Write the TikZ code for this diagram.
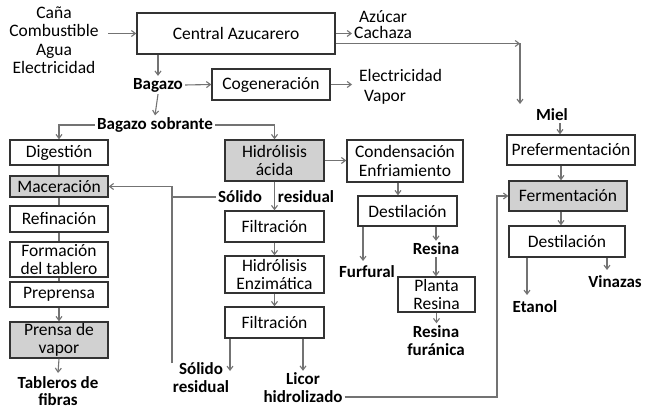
\documentclass[tikz,border=0pt]{standalone}
\usepackage{fontspec}
\setmainfont{Carlito}
\usetikzlibrary{arrows.meta}
\begin{document}
\begin{tikzpicture}[x=1pt,y=-1pt,
  every node/.style={font=\fontsize{17.5}{18.5}\selectfont, align=center, inner sep=2pt},
  box/.style={draw=black!80, line width=1.4pt, inner sep=0pt},
  shaded/.style={box, fill=black!18},
  lbl/.style={font=\bfseries\fontsize{17}{18}\selectfont},
  conn/.style={draw=black!55, line width=1.1pt},
  arr/.style={conn, -{Straight Barb[length=4pt,width=6pt]}}]
\useasboundingbox (0,0) rectangle (650,411);
\fill[white] (0,0) rectangle (650,411);
% boxes
\node[box, minimum width=198pt, minimum height=41pt] (central) at (236,33.5) {Central Azucarero};
\node[box, minimum width=118pt, minimum height=31pt] (cogen) at (271,84.5) {Cogeneración};
\node[box, minimum width=98pt, minimum height=25pt] (dig) at (59,152.5) {Digestión};
\node[shaded, minimum width=98pt, minimum height=21pt] (mac) at (59,186.5) {Maceración};
\node[box, minimum width=98pt, minimum height=26pt] (ref) at (59,219) {Refinación};
\node[box, minimum width=98pt, minimum height=35pt] (form) at (59,259.5) {Formación\\del tablero};
\node[box, minimum width=98pt, minimum height=25pt] (prep) at (59,294.5) {Preprensa};
\node[shaded, minimum width=98pt, minimum height=36pt] (prensa) at (59,340) {Prensa de\\vapor};
\node[shaded, minimum width=99pt, minimum height=41pt] (hacida) at (274.5,160.5) {Hidrólisis\\ácida};
\node[box, minimum width=99pt, minimum height=31pt] (filt1) at (274.5,226.5) {Filtración};
\node[box, minimum width=99pt, minimum height=37pt] (henz) at (274.5,274.5) {Hidrólisis\\Enzimática};
\node[box, minimum width=99pt, minimum height=31pt] (filt2) at (274.5,322.5) {Filtración};
\node[box, minimum width=116pt, minimum height=42pt] (cond) at (405,161) {Condensación\\Enfriamiento};
\node[box, minimum width=99pt, minimum height=30pt] (dest1) at (407.5,211) {Destilación};
\node[box, minimum width=77pt, minimum height=35pt] (planta) at (436.5,294.5) {Planta\\Resina};
\node[box, minimum width=128pt, minimum height=30pt] (pref) at (571,150) {Prefermentación};
\node[shaded, minimum width=118pt, minimum height=30pt] (ferm) at (568,196) {Fermentación};
\node[box, minimum width=116pt, minimum height=31pt] (dest2) at (567,241.5) {Destilación};
% labels
\node (inputs) at (54,40) {Caña\\Combustible\\Agua\\Electricidad};
\node[anchor=west, font=\fontsize{17.5}{16}\selectfont] (azucar) at (352,25) {Azúcar\\Cachaza};
\node[anchor=west] (elec) at (357,75) {Electricidad};
\node[anchor=west] (vapor) at (362,97) {Vapor};
\node[lbl] (bagazo) at (158,85) {Bagazo};
\node[lbl] (bsobr) at (155,125) {Bagazo sobrante};
\node[lbl] (miel) at (552,115) {Miel};
\node[lbl] (solido1) at (240,197) {Sólido};
\node[lbl] (residual1) at (306,197) {residual};
\node[lbl] (solido2) at (201,377.5) {Sólido\\residual};
\node[lbl] (licor) at (303,388) {Licor\\hidrolizado};
\node[lbl] (furfural) at (367,272) {Furfural};
\node[lbl] (resina) at (436,249) {Resina};
\node[lbl] (resfur) at (436,340.5) {Resina\\furánica};
\node[lbl, font=\bfseries\fontsize{17}{17}\selectfont, inner sep=1pt] (tableros) at (58,391.5) {Tableros de\\fibras};
\node[lbl] (etanol) at (535,307) {Etanol};
\node[lbl] (vinazas) at (615,282) {Vinazas};
% coordinates
\coordinate (inx) at (108,0);
\coordinate (mc) at (520,43.5);
\coordinate (me) at (520,104);
\coordinate (ce) at (352,84.5);
\coordinate (lp) at (172,363);
\coordinate (s2t) at (230,371);
\coordinate (ff) at (363,261);
\coordinate (lr) at (497,397);
\coordinate (et) at (527,295);
\coordinate (vi) at (607,270);
\coordinate (tt) at (58,373);
% connectors
\draw[arr] (inx |- central.west) -- (central.west);
\draw[arr] (central.east) -- (azucar.west |- central.east);
\draw[arr] ([yshift=-10pt]central.east) -- (mc);
\draw[arr] (mc) -- (me);
\draw[arr] (bagazo.north |- central.south) -- (bagazo.north);
\draw[arr] (bagazo.east) -- (cogen.west);
\draw[arr] (cogen.east) -- (ce);
\draw[arr] (bagazo.south) -- (bsobr.north);
\draw[arr] (bsobr.west) -| (dig.north);
\draw[arr] (bsobr.east) -| (hacida.north);
\draw[conn] (dig.south) -- (mac.north);
\draw[conn] (mac.south) -- (ref.north);
\draw[conn] (ref.south) -- (form.north);
\draw[conn] (form.south) -- (prep.north);
\draw[arr] (prep.south) -- (prensa.north);
\draw[arr] (prensa.south) -- (tt);
\draw[arr] (hacida.south) -- (filt1.north);
\draw[arr] (filt1.south) -- (henz.north);
\draw[arr] (henz.south) -- (filt2.north);
\draw[arr] (filt2.south -| s2t) -- (s2t);
\draw[arr] (filt2.south -| licor.north) -- (licor.north);
\draw[arr] (lp) |- (mac.east);
\draw[conn] (solido1.west) -- (lp |- solido1.west);
\draw[arr] (hacida.east) -- (cond.west |- hacida.east);
\draw[arr] ([xshift=-7pt]cond.south) -- ([xshift=-7pt]cond.south |- dest1.north);
\draw[arr] (dest1.south -| ff) -- (ff);
\draw[arr] (dest1.south -| resina.north) -- (resina.north);
\draw[arr] (resina.south) -- (resina.south |- planta.north);
\draw[arr] (planta.south) -- (planta.south |- resfur.north);
\draw[arr] (licor.east |- lr) -- (lr) |- (ferm.west);
\draw[arr] ([xshift=8pt]miel.south) -- ([xshift=8pt]miel.south |- pref.north);
\draw[arr] ([xshift=-10pt]pref.south) -- ([xshift=-10pt]pref.south |- ferm.north);
\draw[arr] ([xshift=-7pt]ferm.south) -- ([xshift=-7pt]ferm.south |- dest2.north);
\draw[arr] (dest2.south -| et) -- (et);
\draw[arr] (dest2.south -| vi) -- (vi);
\end{tikzpicture}
\end{document}
